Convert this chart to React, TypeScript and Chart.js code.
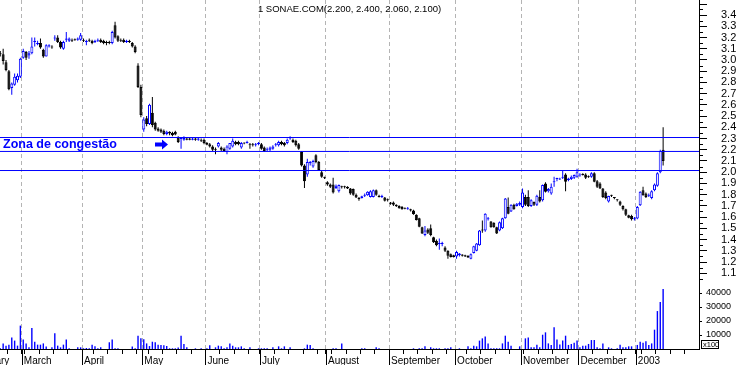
import React, { useEffect, useRef } from 'react';
import { Chart, registerables } from 'chart.js';

Chart.register(...registerables);

type OHLC = [number, number, number, number]; // open, high, low, close

const symbolName = '1 SONAE.COM';
const monthLabels = ['February', 'March', 'April', 'May', 'June', 'July', 'August', 'September', 'October', 'November', 'December', '2003'];
// trading days from each month's first bar to its first Monday (week tick)
const firstMondayOffsets = [3, 1, 4, 2, 5, 5, 2, 5, 4, 1, 5, 2];
const hiddenDaysOfFirstMonth = 11;
const emptySlotsAfterLast = 12;

const febCandles: OHLC[] = [
  [3.06, 3.08, 3.03, 3.05], [3.05, 3.10, 2.96, 2.99], [2.98, 3.00, 2.90, 2.91], [2.90, 2.91, 2.73, 2.74],
  [2.75, 2.80, 2.69, 2.79], [2.78, 2.88, 2.77, 2.85], [2.82, 2.88, 2.80, 2.86], [2.85, 3.02, 2.84, 3.01],
];
const marCandles: OHLC[] = [
  [3.02, 3.10, 3.01, 3.08], [3.07, 3.08, 3.00, 3.02], [3.04, 3.08, 3.01, 3.06], [3.06, 3.20, 3.05, 3.12],
  [3.16, 3.20, 3.12, 3.17], [3.14, 3.17, 3.13, 3.15], [3.15, 3.19, 3.10, 3.11], [3.09, 3.10, 3.02, 3.03],
  [3.03, 3.14, 3.03, 3.13], [3.12, 3.14, 3.11, 3.13], [3.12, 3.13, 3.10, 3.11], [3.19, 3.22, 3.17, 3.20],
  [3.20, 3.22, 3.15, 3.16], [3.16, 3.17, 3.10, 3.11], [3.10, 3.17, 3.09, 3.16], [3.18, 3.25, 3.16, 3.19],
  [3.17, 3.20, 3.16, 3.19], [3.18, 3.19, 3.16, 3.17], [3.18, 3.19, 3.17, 3.175], [3.18, 3.20, 3.17, 3.19],
  [3.18, 3.24, 3.17, 3.22],
];
const aprCandles: OHLC[] = [
  [3.18, 3.19, 3.16, 3.17], [3.16, 3.18, 3.13, 3.165], [3.18, 3.19, 3.16, 3.17], [3.17, 3.18, 3.14, 3.15],
  [3.16, 3.18, 3.15, 3.17], [3.17, 3.19, 3.16, 3.18], [3.18, 3.19, 3.15, 3.16], [3.17, 3.18, 3.14, 3.15],
  [3.16, 3.17, 3.13, 3.15], [3.16, 3.17, 3.14, 3.15], [3.15, 3.26, 3.14, 3.25], [3.31, 3.34, 3.19, 3.20],
  [3.21, 3.22, 3.16, 3.17], [3.18, 3.19, 3.16, 3.17], [3.18, 3.19, 3.15, 3.16], [3.16, 3.18, 3.15, 3.17],
  [3.17, 3.18, 3.15, 3.16], [3.15, 3.16, 3.11, 3.12], [3.12, 3.13, 3.06, 3.07], [2.95, 2.97, 2.75, 2.76],
  [2.76, 2.78, 2.49, 2.51],
];
const mayCandles: OHLC[] = [
  [2.38, 2.49, 2.36, 2.47], [2.48, 2.50, 2.41, 2.43], [2.43, 2.61, 2.42, 2.60], [2.53, 2.67, 2.40, 2.42],
  [2.44, 2.45, 2.37, 2.38], [2.39, 2.40, 2.36, 2.37], [2.38, 2.39, 2.35, 2.36], [2.37, 2.38, 2.33, 2.34],
  [2.34, 2.37, 2.33, 2.36], [2.36, 2.365, 2.33, 2.345], [2.35, 2.36, 2.32, 2.33], [2.36, 2.37, 2.33, 2.335],
  [2.31, 2.32, 2.26, 2.27], [2.295, 2.31, 2.21, 2.305], [2.29, 2.32, 2.28, 2.305], [2.30, 2.31, 2.285, 2.29],
  [2.30, 2.31, 2.285, 2.29], [2.29, 2.31, 2.285, 2.30], [2.30, 2.31, 2.28, 2.29], [2.29, 2.31, 2.28, 2.30],
  [2.29, 2.30, 2.27, 2.28], [2.29, 2.30, 2.25, 2.26],
];
const junCandles: OHLC[] = [
  [2.26, 2.27, 2.24, 2.245], [2.25, 2.26, 2.22, 2.23], [2.23, 2.24, 2.19, 2.20], [2.21, 2.22, 2.16, 2.20],
  [2.23, 2.27, 2.22, 2.26], [2.22, 2.23, 2.19, 2.20], [2.21, 2.22, 2.18, 2.19], [2.18, 2.24, 2.16, 2.23],
  [2.21, 2.26, 2.20, 2.26], [2.23, 2.30, 2.22, 2.28], [2.27, 2.28, 2.24, 2.25], [2.27, 2.28, 2.24, 2.25],
  [2.22, 2.27, 2.21, 2.26], [2.26, 2.265, 2.25, 2.255], [2.26, 2.28, 2.255, 2.27], [2.25, 2.26, 2.21, 2.24],
  [2.25, 2.26, 2.23, 2.24], [2.24, 2.26, 2.23, 2.25], [2.25, 2.27, 2.24, 2.26],
];
const julCandles: OHLC[] = [
  [2.25, 2.26, 2.20, 2.21], [2.22, 2.23, 2.18, 2.19], [2.20, 2.22, 2.19, 2.21], [2.20, 2.23, 2.19, 2.22],
  [2.21, 2.24, 2.20, 2.23], [2.24, 2.26, 2.23, 2.25], [2.24, 2.28, 2.23, 2.27], [2.27, 2.28, 2.24, 2.25],
  [2.26, 2.27, 2.23, 2.24], [2.26, 2.30, 2.25, 2.29], [2.30, 2.32, 2.29, 2.31], [2.29, 2.30, 2.26, 2.27],
  [2.28, 2.29, 2.23, 2.24], [2.25, 2.26, 2.20, 2.21], [2.18, 2.19, 2.05, 2.06], [2.06, 2.07, 1.86, 1.92],
  [1.98, 2.12, 1.96, 2.09], [2.08, 2.10, 2.06, 2.09], [2.05, 2.11, 2.04, 2.10], [2.15, 2.16, 2.08, 2.09],
  [2.09, 2.10, 2.01, 2.02], [2.00, 2.01, 1.95, 1.96], [1.955, 1.96, 1.94, 1.95],
];
const augCandles: OHLC[] = [
  [1.91, 1.92, 1.88, 1.89], [1.89, 1.90, 1.86, 1.87], [1.89, 1.95, 1.81, 1.82], [1.86, 1.89, 1.85, 1.88],
  [1.83, 1.89, 1.82, 1.885], [1.87, 1.88, 1.855, 1.865], [1.87, 1.88, 1.855, 1.865], [1.87, 1.875, 1.85, 1.855],
  [1.855, 1.86, 1.80, 1.81], [1.85, 1.855, 1.79, 1.80], [1.80, 1.81, 1.77, 1.775], [1.77, 1.78, 1.745, 1.76],
  [1.77, 1.79, 1.765, 1.785], [1.79, 1.81, 1.78, 1.80], [1.795, 1.83, 1.79, 1.825], [1.78, 1.84, 1.775, 1.83],
  [1.78, 1.845, 1.775, 1.84], [1.84, 1.845, 1.79, 1.80], [1.79, 1.80, 1.775, 1.78], [1.78, 1.80, 1.77, 1.785],
  [1.775, 1.78, 1.74, 1.745], [1.76, 1.765, 1.74, 1.75],
];
const sepCandles: OHLC[] = [
  [1.73, 1.735, 1.71, 1.72], [1.73, 1.74, 1.70, 1.71], [1.71, 1.715, 1.69, 1.70], [1.70, 1.705, 1.675, 1.68],
  [1.69, 1.70, 1.665, 1.67], [1.68, 1.685, 1.67, 1.675], [1.67, 1.69, 1.665, 1.68], [1.67, 1.675, 1.65, 1.66],
  [1.66, 1.665, 1.62, 1.625], [1.62, 1.625, 1.57, 1.575], [1.59, 1.595, 1.51, 1.515], [1.51, 1.515, 1.45, 1.455],
  [1.44, 1.52, 1.43, 1.48], [1.49, 1.50, 1.45, 1.46], [1.50, 1.535, 1.43, 1.44], [1.42, 1.425, 1.37, 1.375],
  [1.39, 1.40, 1.34, 1.35], [1.36, 1.41, 1.31, 1.37], [1.36, 1.38, 1.34, 1.37], [1.33, 1.34, 1.29, 1.30],
  [1.30, 1.305, 1.23, 1.255], [1.27, 1.275, 1.24, 1.245], [1.26, 1.265, 1.24, 1.245],
];
const octCandles: OHLC[] = [
  [1.25, 1.30, 1.23, 1.29], [1.26, 1.28, 1.25, 1.275], [1.267, 1.27, 1.25, 1.255], [1.26, 1.265, 1.245, 1.25],
  [1.255, 1.26, 1.235, 1.24], [1.23, 1.275, 1.225, 1.27], [1.28, 1.345, 1.275, 1.34], [1.30, 1.37, 1.295, 1.365],
  [1.35, 1.485, 1.345, 1.48], [1.49, 1.57, 1.46, 1.48], [1.48, 1.635, 1.47, 1.63], [1.58, 1.60, 1.57, 1.59],
  [1.56, 1.565, 1.505, 1.51], [1.55, 1.555, 1.505, 1.51], [1.51, 1.515, 1.45, 1.455], [1.48, 1.56, 1.475, 1.555],
  [1.50, 1.595, 1.495, 1.59], [1.59, 1.77, 1.585, 1.765], [1.69, 1.775, 1.625, 1.63], [1.65, 1.715, 1.645, 1.71],
  [1.71, 1.72, 1.665, 1.67], [1.70, 1.725, 1.695, 1.72], [1.71, 1.74, 1.70, 1.725],
];
const novCandles: OHLC[] = [
  [1.69, 1.855, 1.68, 1.82], [1.78, 1.80, 1.70, 1.71], [1.78, 1.84, 1.69, 1.70], [1.70, 1.76, 1.69, 1.75],
  [1.735, 1.74, 1.70, 1.71], [1.71, 1.80, 1.70, 1.79], [1.78, 1.84, 1.73, 1.74], [1.75, 1.89, 1.74, 1.885],
  [1.90, 1.91, 1.82, 1.825], [1.83, 1.86, 1.82, 1.85], [1.81, 1.90, 1.80, 1.87], [1.91, 1.96, 1.87, 1.915],
  [1.94, 1.95, 1.92, 1.945], [1.935, 1.95, 1.93, 1.94], [1.95, 2.02, 1.94, 1.955], [1.98, 1.99, 1.83, 1.915],
  [1.93, 1.95, 1.92, 1.945], [1.94, 1.97, 1.93, 1.96], [1.95, 1.98, 1.94, 1.975], [1.96, 2.03, 1.95, 2.00],
];
const decCandles: OHLC[] = [
  [1.97, 1.99, 1.96, 1.975], [1.98, 1.99, 1.97, 1.975], [1.98, 1.99, 1.94, 1.95], [1.965, 1.97, 1.95, 1.955],
  [1.96, 2.00, 1.95, 1.99], [1.99, 2.00, 1.91, 1.915], [1.92, 1.93, 1.86, 1.87], [1.90, 1.91, 1.85, 1.855],
  [1.855, 1.86, 1.77, 1.78], [1.82, 1.83, 1.76, 1.77], [1.74, 1.79, 1.73, 1.787], [1.795, 1.80, 1.78, 1.79],
  [1.775, 1.78, 1.76, 1.77], [1.755, 1.76, 1.74, 1.75], [1.74, 1.745, 1.70, 1.71], [1.70, 1.705, 1.66, 1.67],
  [1.67, 1.675, 1.61, 1.62], [1.617, 1.62, 1.59, 1.594], [1.61, 1.62, 1.57, 1.58], [1.58, 1.60, 1.57, 1.59],
];
const janCandles: OHLC[] = [
  [1.588, 1.70, 1.58, 1.69], [1.706, 1.83, 1.70, 1.825], [1.84, 1.87, 1.79, 1.795], [1.81, 1.82, 1.77, 1.78],
  [1.79, 1.81, 1.78, 1.80], [1.77, 1.84, 1.76, 1.83], [1.84, 1.90, 1.83, 1.89], [1.88, 2.00, 1.87, 1.99],
  [2.00, 2.20, 1.99, 2.19], [2.20, 2.40, 2.06, 2.10],
];

const febVolume = [500, 4000, 2400, 3100, 8300, 6000, 2400, 16700];
const marVolume = [6700, 4000, 1200, 15000, 5200, 3100, 3100, 4000, 1700, 0, 1200, 11200, 2400, 1200, 3100, 6700, 500, 0, 0, 1200, 1200];
const aprVolume = [500, 700, 500, 3100, 1900, 500, 1200, 0, 0, 4800, 6700, 500, 500, 0, 0, 0, 0, 1700, 500, 9500, 7600];
const mayVolume = [6900, 4000, 2100, 5200, 4800, 3100, 2900, 2600, 2100, 500, 500, 500, 1000, 9500, 3600, 1200, 0, 0, 500, 0, 500, 0];
const junVolume = [500, 2600, 0, 1200, 2400, 1900, 500, 1200, 4000, 2400, 1200, 1200, 1900, 500, 0, 1200, 0, 0, 500];
const julVolume = [500, 500, 500, 0, 1200, 0, 1900, 500, 1900, 0, 1200, 0, 0, 0, 0, 500, 3100, 2900, 500, 0, 0, 0, 0];
const augVolume = [0, 0, 500, 500, 0, 4000, 0, 0, 0, 0, 0, 0, 500, 500, 0, 0, 0, 1200, 500, 0, 0, 0];
const sepVolume = [0, 0, 0, 0, 0, 0, 0, 0, 500, 0, 500, 500, 1900, 0, 1200, 500, 500, 500, 0, 500, 500, 1200, 0];
const octVolume = [0, 500, 0, 0, 1900, 500, 2400, 1900, 6000, 7600, 9000, 4000, 500, 500, 500, 500, 4000, 9500, 5200, 2400, 0, 0, 1900];
const novVolume = [0, 7600, 8300, 1200, 1200, 3100, 1200, 10200, 11900, 4000, 2900, 15500, 6700, 3300, 6000, 9500, 2900, 3600, 4500, 6000];
const decVolume = [1200, 2400, 2400, 3600, 6400, 6400, 1200, 500, 4000, 0, 1200, 500, 0, 500, 3100, 1200, 1200, 1900, 1900, 0];
const janVolume = [2900, 5200, 4500, 5500, 2900, 4000, 13800, 27100, 33600, 42900];

const priceTickLabels = ['1.1', '1.2', '1.3', '1.4', '1.5', '1.6', '1.7', '1.8', '1.9', '2.0', '2.1', '2.2', '2.3', '2.4', '2.5', '2.6', '2.7', '2.8', '2.9', '3.0', '3.1', '3.2', '3.3', '3.4'];
const volumeTickLabels = ['10000', '20000', '30000', '40000'];
const zoneLevels = [2.309, 2.185, 2.015];
const zoneText = 'Zona de congestão';
const volumeUnitText = 'x100';

const candleMonths = [febCandles, marCandles, aprCandles, mayCandles, junCandles, julCandles, augCandles, sepCandles, octCandles, novCandles, decCandles, janCandles];
const volumeMonths = [febVolume, marVolume, aprVolume, mayVolume, junVolume, julVolume, augVolume, sepVolume, octVolume, novVolume, decVolume, janVolume];

const BLUE = '#0000ff';
const BLACK = '#000000';
const GRID = '#b4b4b4';
const FONT = '"Liberation Sans", Arial, Helvetica, sans-serif';
const W = 738;
const PRICE_H = 282;
const VOL_H = 83;
const AXIS_W = 39;
const PRICE_MIN = 1.022;
const PRICE_MAX = 3.534;
const VOL_MAX = 47860;

const zeroPadding = (s: any) => {
  s.paddingTop = 0;
  s.paddingBottom = 0;
  s.paddingLeft = 0;
  s.paddingRight = 0;
};

export default function App() {
  const priceRef = useRef<HTMLCanvasElement | null>(null);
  const volRef = useRef<HTMLCanvasElement | null>(null);

  useEffect(() => {
    const candles: OHLC[] = candleMonths.flat();
    const volumes: number[] = volumeMonths.flat();
    const xMin = -0.1;
    const xMax = candles.length - 0.5 + emptySlotsAfterLast;
    const monthStart: number[] = [];
    const weekly: number[] = [];
    let acc = 0;
    candleMonths.forEach((m, k) => {
      monthStart.push(acc);
      const end = k === candleMonths.length - 1 ? xMax - acc : m.length;
      for (let d = firstMondayOffsets[k]; d < end; d += 5) weekly.push(acc + d - 0.5);
      acc += m.length;
    });
    const boundaries = monthStart.map((s, k) => (k === 0 ? -hiddenDaysOfFirstMonth : s) - 0.5);
    const labelByValue = new Map<number, string>();
    boundaries.forEach((b, k) => labelByValue.set(b, '\u2009' + monthLabels[k]));
    const inRangeBoundaries = boundaries.slice(1);
    const weekTicks = weekly.filter(v => !inRangeBoundaries.includes(v));
    const priceTicks = priceTickLabels.map(Number);
    const volumeTicks = volumeTickLabels.map(Number);
    const isUp = (c: OHLC) => c[3] >= c[0];

    const pricePlugin = {
      id: 'priceDecor',
      afterDraw(chart: any) {
        const { ctx, chartArea, scales } = chart;
        const y = scales.y;
        ctx.save();
        ctx.strokeStyle = BLACK;
        ctx.lineWidth = 1;
        const minor = [priceTicks[0] - 0.05, ...priceTicks.map(v => v + 0.05)];
        for (const v of minor) {
          const py = Math.round(y.getPixelForValue(v)) + 0.5;
          ctx.beginPath();
          ctx.moveTo(chartArea.right, py);
          ctx.lineTo(chartArea.right + 4, py);
          ctx.stroke();
        }
        {
          const py = Math.round(y.getPixelForValue(priceTicks[priceTicks.length - 1] + 0.1)) + 0.5;
          ctx.beginPath();
          ctx.moveTo(chartArea.right, py);
          ctx.lineTo(chartArea.right + 8, py);
          ctx.stroke();
        }
        const last = candles[candles.length - 1];
        ctx.fillStyle = BLACK;
        ctx.font = `9.5px ${FONT}`;
        ctx.textAlign = 'center';
        ctx.textBaseline = 'middle';
        ctx.fillText(`${symbolName}(${last.map(v => v.toFixed(3)).join(', ')})`, (chartArea.left + chartArea.right) / 2, 9);
        const zy = y.getPixelForValue((zoneLevels[0] + zoneLevels[1]) / 2);
        ctx.fillStyle = BLUE;
        ctx.font = `bold 12.5px ${FONT}`;
        ctx.textAlign = 'left';
        ctx.fillText(zoneText, chartArea.left + 3, zy);
        const ax = chartArea.left + 155;
        ctx.beginPath();
        ctx.moveTo(ax, zy - 2);
        ctx.lineTo(ax + 7, zy - 2);
        ctx.lineTo(ax + 7, zy - 5);
        ctx.lineTo(ax + 13, zy);
        ctx.lineTo(ax + 7, zy + 5);
        ctx.lineTo(ax + 7, zy + 2);
        ctx.lineTo(ax, zy + 2);
        ctx.closePath();
        ctx.fill();
        ctx.restore();
      },
    };

    const volPlugin = {
      id: 'volDecor',
      afterDraw(chart: any) {
        const { ctx, chartArea, scales } = chart;
        const x = scales.x;
        ctx.save();
        ctx.strokeStyle = BLACK;
        ctx.lineWidth = 1;
        for (const b of inRangeBoundaries) {
          const px = Math.round(x.getPixelForValue(b)) + 0.5;
          ctx.beginPath();
          ctx.moveTo(px, chartArea.bottom);
          ctx.lineTo(px, chart.height);
          ctx.stroke();
        }
        const bx = chartArea.right + 2.5;
        const by = chartArea.bottom - 8.5;
        ctx.fillStyle = '#ffffff';
        ctx.fillRect(bx, by, 17, 8);
        ctx.strokeRect(bx, by, 17, 8);
        ctx.fillStyle = BLACK;
        ctx.font = `7.5px ${FONT}`;
        ctx.textAlign = 'left';
        ctx.textBaseline = 'middle';
        ctx.fillText(volumeUnitText, bx + 1.5, by + 4.5);
        ctx.restore();
      },
    };

    Chart.defaults.font.family = FONT;

    const priceChart = new Chart(priceRef.current!, {
      type: 'bar',
      data: {
        datasets: [
          ...zoneLevels.map(level => ({
            type: 'line' as const,
            data: [{ x: xMin, y: level }, { x: xMax, y: level }],
            borderColor: BLUE,
            borderWidth: 1,
            pointRadius: 0,
            order: 0,
          })),
          {
            type: 'bar' as const,
            data: candles.map((c, i) => ({ x: i, y: [Math.min(c[0], c[3]), Math.max(c[0], c[3])] })),
            backgroundColor: candles.map(c => (isUp(c) ? '#ffffff' : BLACK)),
            borderColor: candles.map(c => (isUp(c) ? BLUE : BLACK)),
            borderWidth: 1,
            borderSkipped: false,
            barThickness: 3,
            minBarLength: 1,
            grouped: false,
            inflateAmount: 0,
            order: 1,
          },
          {
            type: 'bar' as const,
            data: candles.map((c, i) => ({ x: i, y: [c[2], c[1]] })),
            backgroundColor: candles.map(c => (isUp(c) ? BLUE : BLACK)),
            borderWidth: 0,
            barThickness: 1,
            grouped: false,
            inflateAmount: 0,
            order: 2,
          },
        ] as any,
      },
      options: {
        responsive: false,
        maintainAspectRatio: false,
        animation: false,
        events: [],
        layout: { padding: 0 },
        plugins: { legend: { display: false }, tooltip: { enabled: false }, title: { display: false } },
        scales: {
          x: {
            type: 'linear',
            min: xMin,
            max: xMax,
            offset: false,
            ticks: { display: false },
            grid: { offset: false, drawOnChartArea: true, drawTicks: false, color: GRID, lineWidth: 1 },
            border: { display: false, dash: [4, 3] },
            afterBuildTicks: (s: any) => { s.ticks = inRangeBoundaries.map(v => ({ value: v })); },
            afterFit: (s: any) => { s.height = 0; zeroPadding(s); },
          },
          y: {
            type: 'linear',
            position: 'right',
            min: PRICE_MIN,
            max: PRICE_MAX,
            afterBuildTicks: (s: any) => { s.ticks = priceTicks.map(v => ({ value: v })); },
            ticks: {
              autoSkip: false,
              color: BLACK,
              padding: 14,
              font: { size: 11, family: FONT },
              callback: (_v: any, i: number) => priceTickLabels[i],
            },
            grid: { drawOnChartArea: false, drawTicks: true, tickLength: 8, tickColor: BLACK, tickWidth: 1 },
            border: { display: true, color: BLACK, width: 1 },
            afterFit: (s: any) => { s.width = AXIS_W; zeroPadding(s); },
          },
        },
      } as any,
      plugins: [pricePlugin],
    });

    const midIndex = Math.floor(weekTicks.length / 2);
    const xTicks = [...inRangeBoundaries, ...weekTicks.slice(0, midIndex), boundaries[0], ...weekTicks.slice(midIndex)];
    const volChart = new Chart(volRef.current!, {
      type: 'bar',
      data: {
        datasets: [
          {
            data: volumes.map((v, i) => ({ x: i, y: v })),
            backgroundColor: BLUE,
            barThickness: 1.4,
            inflateAmount: 0,
            grouped: false,
          },
        ] as any,
      },
      options: {
        responsive: false,
        maintainAspectRatio: false,
        animation: false,
        events: [],
        layout: { padding: 0 },
        plugins: { legend: { display: false }, tooltip: { enabled: false } },
        scales: {
          x: {
            type: 'linear',
            min: xMin,
            max: xMax,
            offset: false,
            afterBuildTicks: (s: any) => { s.ticks = xTicks.map(v => ({ value: v })); },
            ticks: {
              display: true,
              autoSkip: false,
              maxRotation: 0,
              minRotation: 0,
              align: 'start',
              color: BLACK,
              padding: 1,
              font: { size: 10, family: FONT },
              callback: (v: any) => labelByValue.get(Number(v)) ?? '',
            },
            grid: {
              offset: false,
              drawOnChartArea: true,
              drawTicks: true,
              tickLength: 5,
              tickColor: BLACK,
              color: (ctx: any) => (ctx.tick && inRangeBoundaries.includes(ctx.tick.value) ? GRID : 'rgba(0,0,0,0)'),
            },
            border: { display: true, color: BLACK, width: 1, dash: [4, 3] },
            afterFit: (s: any) => { s.height = 16; zeroPadding(s); },
          },
          y: {
            type: 'linear',
            position: 'right',
            min: 0,
            max: VOL_MAX,
            afterBuildTicks: (s: any) => { s.ticks = volumeTicks.map(v => ({ value: v })); },
            ticks: {
              autoSkip: false,
              color: BLACK,
              padding: 4,
              font: { size: 9, family: FONT },
              callback: (_v: any, i: number) => volumeTickLabels[i],
            },
            grid: { drawOnChartArea: false, drawTicks: true, tickLength: 3, tickColor: BLACK },
            border: { display: true, color: BLACK, width: 1 },
            afterFit: (s: any) => { s.width = AXIS_W; zeroPadding(s); },
          },
        },
      } as any,
      plugins: [volPlugin],
    });

    return () => {
      priceChart.destroy();
      volChart.destroy();
    };
  }, []);

  return (
    <div style={{ position: 'absolute', left: 0, top: 0, width: W, height: PRICE_H + VOL_H, background: '#ffffff', overflow: 'hidden' }}>
      <canvas ref={priceRef} width={W} height={PRICE_H} style={{ position: 'absolute', left: 0, top: 0, width: W, height: PRICE_H }} />
      <canvas ref={volRef} width={W} height={VOL_H} style={{ position: 'absolute', left: 0, top: PRICE_H, width: W, height: VOL_H }} />
    </div>
  );
}
